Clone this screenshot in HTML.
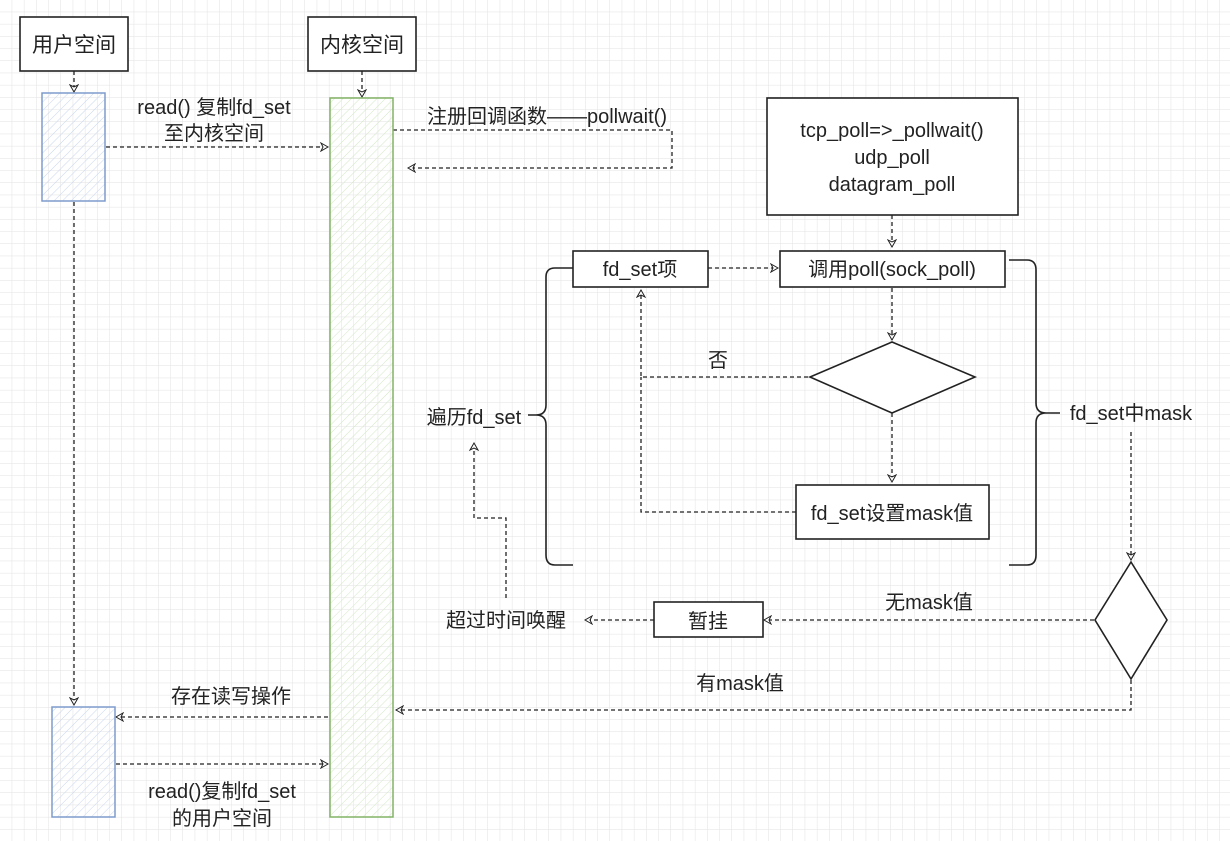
<!DOCTYPE html>
<html><head><meta charset="utf-8"><style>
html,body{margin:0;padding:0;background:#fff;}
svg{display:block;}
text{font-family:"Liberation Sans","Noto Sans CJK SC",sans-serif;font-size:20px;fill:#222;}
</style></head><body>
<svg width="1230" height="841" viewBox="0 0 1230 841" xmlns="http://www.w3.org/2000/svg">
<defs>
<pattern id="g" width="12.2" height="12.2" patternUnits="userSpaceOnUse"><path d="M12.2 0V12.2H0" fill="none" stroke="#e2e2e2" stroke-width="1"/></pattern>
<pattern id="hb" width="6" height="6" patternUnits="userSpaceOnUse" patternTransform="rotate(45)"><line x1="0" y1="0" x2="0" y2="6" stroke="#c9d6ee" stroke-width="1"/></pattern>
<pattern id="hg" width="6" height="6" patternUnits="userSpaceOnUse" patternTransform="rotate(45)"><line x1="0" y1="0" x2="0" y2="6" stroke="#d3e8c6" stroke-width="1"/></pattern>
<marker id="a" markerWidth="10" markerHeight="10" refX="8" refY="5" orient="auto" markerUnits="userSpaceOnUse"><path d="M1,1 L8,5 L1,9 L3,5 Z" fill="#fff" stroke="#222" stroke-width="1"/></marker>
</defs>
<rect width="1230" height="841" fill="url(#g)"/>
<g stroke="#222" stroke-width="1.3" fill="none" stroke-dasharray="4,3">
<line x1="74" y1="71" x2="74" y2="92" marker-end="url(#a)"/>
<line x1="362" y1="71" x2="362" y2="97" marker-end="url(#a)"/>
<line x1="106" y1="147" x2="328" y2="147" marker-end="url(#a)"/>
<polyline points="393,130 672,130 672,168 408,168" marker-end="url(#a)"/>
<line x1="74" y1="202" x2="74" y2="705" marker-end="url(#a)"/>
<line x1="892" y1="215" x2="892" y2="247" marker-end="url(#a)"/>
<line x1="708" y1="268" x2="778" y2="268" marker-end="url(#a)"/>
<line x1="892" y1="288" x2="892" y2="340" marker-end="url(#a)"/>
<line x1="892" y1="413" x2="892" y2="482" marker-end="url(#a)"/>
<polyline points="808,377 641,377 641,290" marker-end="url(#a)"/>
<polyline points="796,512 641,512 641,377"/>
<line x1="1131" y1="432" x2="1131" y2="560" marker-end="url(#a)"/>
<line x1="1094" y1="620" x2="764" y2="620" marker-end="url(#a)"/>
<line x1="654" y1="620" x2="585" y2="620" marker-end="url(#a)"/>
<polyline points="506,598 506,518 474,518 474,443" marker-end="url(#a)"/>
<polyline points="1131,680 1131,710 396,710" marker-end="url(#a)"/>
<line x1="328" y1="717" x2="116" y2="717" marker-end="url(#a)"/>
<line x1="116" y1="764" x2="328" y2="764" marker-end="url(#a)"/>
</g>
<g stroke="#222" stroke-width="1.6" fill="#fff">
<rect x="20" y="17" width="108" height="54"/>
<rect x="308" y="17" width="108" height="54"/>
<rect x="767" y="98" width="251" height="117"/>
<rect x="573" y="251" width="135" height="36"/>
<rect x="780" y="251" width="225" height="36"/>
<polygon points="892,342 975,377 892,413 810,377"/>
<rect x="796" y="485" width="193" height="54"/>
<polygon points="1131,562 1167,620 1131,679 1095,620"/>
<rect x="654" y="602" width="109" height="35"/>
</g>
<rect x="42" y="93" width="63" height="108" fill="url(#hb)" stroke="#7e9bcc" stroke-width="1.5"/>
<rect x="52" y="707" width="63" height="110" fill="url(#hb)" stroke="#7e9bcc" stroke-width="1.5"/>
<rect x="330" y="98" width="63" height="719" fill="url(#hg)" stroke="#82b366" stroke-width="1.5"/>
<g stroke="#222" stroke-width="1.6" fill="none">
<path d="M573,268 H555 Q546,268 546,277 V405 Q546,415 536,415 H528 M536,415 Q546,415 546,425 V555 Q546,565 555,565 H573"/>
<path d="M1009,260 H1027 Q1036,260 1036,270 V403 Q1036,413 1046,413 H1060 M1046,413 Q1036,413 1036,423 V555 Q1036,565 1027,565 H1009"/>
</g>
<g text-anchor="middle">
<text x="74" y="52" style="font-size:21px">用户空间</text>
<text x="362" y="52" style="font-size:21px">内核空间</text>
<text x="214" y="114">read() 复制fd_set</text>
<text x="214" y="140">至内核空间</text>
<text x="547" y="123">注册回调函数——pollwait()</text>
<text x="892" y="137">tcp_poll=&gt;_pollwait()</text>
<text x="892" y="164">udp_poll</text>
<text x="892" y="191">datagram_poll</text>
<text x="640" y="276">fd_set项</text>
<text x="892" y="276">调用poll(sock_poll)</text>
<text x="718" y="367">否</text>
<text x="474" y="424">遍历fd_set</text>
<text x="1131" y="420">fd_set中mask</text>
<text x="892" y="520">fd_set设置mask值</text>
<text x="929" y="609">无mask值</text>
<text x="708" y="628">暂挂</text>
<text x="506" y="627">超过时间唤醒</text>
<text x="740" y="690">有mask值</text>
<text x="231" y="703">存在读写操作</text>
<text x="222" y="798">read()复制fd_set</text>
<text x="222" y="825">的用户空间</text>
</g>
</svg>
</body></html>
